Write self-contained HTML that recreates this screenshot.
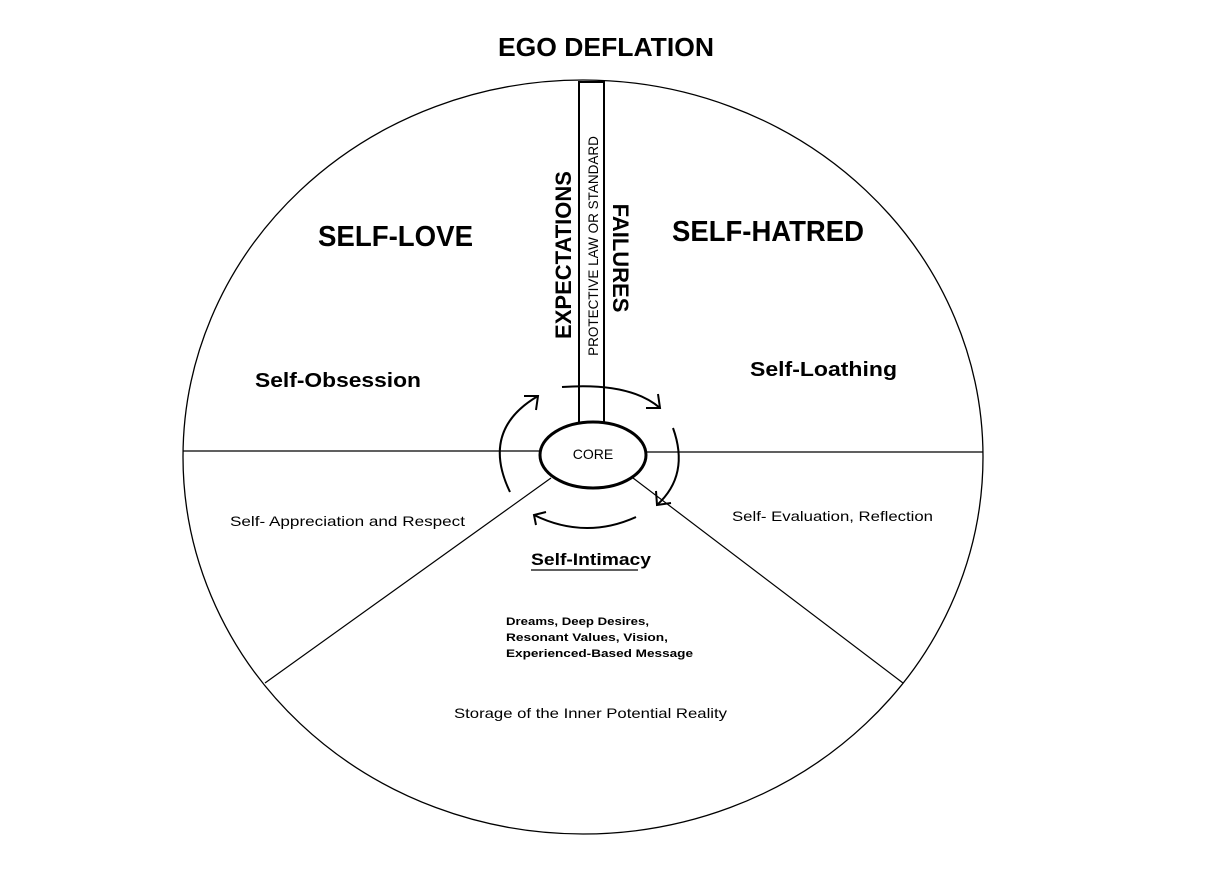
<!DOCTYPE html>
<html><head><meta charset="utf-8"><style>
html,body{margin:0;padding:0;background:#fff;width:1218px;height:887px;overflow:hidden}
svg text{font-family:"Liberation Sans",sans-serif;fill:#000}
</style></head><body>
<svg width="1218" height="887" viewBox="0 0 1218 887" xmlns="http://www.w3.org/2000/svg">
<ellipse cx="583" cy="457" rx="400" ry="377" fill="none" stroke="#000" stroke-width="1.3"/>
<line x1="183" y1="451" x2="541" y2="451" stroke="#000" stroke-width="1.2"/>
<line x1="645" y1="452" x2="983" y2="452" stroke="#000" stroke-width="1.2"/>
<line x1="551" y1="478" x2="265" y2="683" stroke="#000" stroke-width="1.2"/>
<line x1="633" y1="478" x2="903" y2="683" stroke="#000" stroke-width="1.2"/>
<rect x="579" y="82" width="25" height="341" fill="#fff" stroke="#000" stroke-width="2"/>
<ellipse cx="593" cy="455" rx="53" ry="33" fill="#fff" stroke="#000" stroke-width="3"/>
<g fill="none" stroke="#000" stroke-width="2">
<path d="M510 492 Q480 430 538 396"/><path d="M524 396 L538 396 L536 410"/>
<path d="M562 387 Q630 382 660 408"/><path d="M646 408 L660 408 L658 394"/>
<path d="M673 428 Q690 475 657 505"/><path d="M656 491 L657 505 L671 503"/>
<path d="M636 517 Q585 540 534 515"/><path d="M546 512 L534 515 L536 525"/>
<line x1="531" y1="570" x2="638" y2="570" stroke-width="1.3"/>
</g>
<text x="498" y="56" font-size="26" font-weight="bold" textLength="216" lengthAdjust="spacingAndGlyphs">EGO DEFLATION</text>
<text x="318" y="246" font-size="29" font-weight="bold" textLength="155" lengthAdjust="spacingAndGlyphs">SELF-LOVE</text>
<text x="672" y="241" font-size="29" font-weight="bold" textLength="192" lengthAdjust="spacingAndGlyphs">SELF-HATRED</text>
<text x="255" y="387" font-size="20" font-weight="bold" textLength="166" lengthAdjust="spacingAndGlyphs">Self-Obsession</text>
<text x="750" y="376" font-size="20" font-weight="bold" textLength="147" lengthAdjust="spacingAndGlyphs">Self-Loathing</text>
<text x="593" y="459" font-size="14" text-anchor="middle">CORE</text>
<text x="230" y="526" font-size="14" textLength="235" lengthAdjust="spacingAndGlyphs">Self- Appreciation and Respect</text>
<text x="732" y="521" font-size="14" textLength="201" lengthAdjust="spacingAndGlyphs">Self- Evaluation, Reflection</text>
<text x="531" y="565" font-size="17" font-weight="bold" textLength="120" lengthAdjust="spacingAndGlyphs">Self-Intimacy</text>
<text x="506" y="625" font-size="11" font-weight="bold" textLength="143" lengthAdjust="spacingAndGlyphs">Dreams, Deep Desires,</text>
<text x="506" y="641" font-size="11" font-weight="bold" textLength="162" lengthAdjust="spacingAndGlyphs">Resonant Values, Vision,</text>
<text x="506" y="657" font-size="11" font-weight="bold" textLength="187" lengthAdjust="spacingAndGlyphs">Experienced-Based Message</text>
<text x="454" y="718" font-size="14" textLength="273" lengthAdjust="spacingAndGlyphs">Storage of the Inner Potential Reality</text>
<text transform="translate(571,255) rotate(-90)" font-size="22" font-weight="bold" text-anchor="middle">EXPECTATIONS</text>
<text transform="translate(598,246) rotate(-90)" font-size="13.5" text-anchor="middle">PROTECTIVE LAW OR STANDARD</text>
<text transform="translate(613,258) rotate(90)" font-size="22" font-weight="bold" text-anchor="middle">FAILURES</text>
</svg>
</body></html>
